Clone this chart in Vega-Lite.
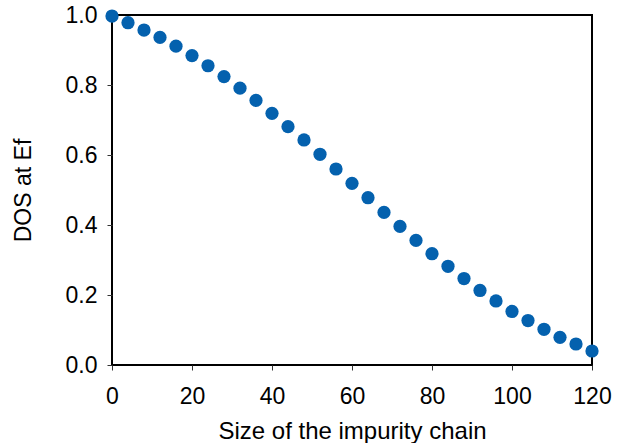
{
  "$schema": "https://vega.github.io/schema/vega-lite/v6.json",
  "width": 480,
  "height": 350,
  "autosize": "none",
  "padding": {"left": 112, "top": 15, "right": 36, "bottom": 78},
  "background": "white",
  "config": {
    "view": {"stroke": "black", "strokeWidth": 2},
    "font": "Liberation Sans"
  },
  "data": {
    "values": [
      {"size": 0, "dos": 0.997},
      {"size": 4, "dos": 0.978},
      {"size": 8, "dos": 0.957},
      {"size": 12, "dos": 0.936},
      {"size": 16, "dos": 0.911},
      {"size": 20, "dos": 0.884},
      {"size": 24, "dos": 0.855},
      {"size": 28, "dos": 0.824},
      {"size": 32, "dos": 0.791},
      {"size": 36, "dos": 0.756},
      {"size": 40, "dos": 0.719},
      {"size": 44, "dos": 0.681},
      {"size": 48, "dos": 0.643},
      {"size": 52, "dos": 0.602},
      {"size": 56, "dos": 0.560},
      {"size": 60, "dos": 0.519},
      {"size": 64, "dos": 0.478},
      {"size": 68, "dos": 0.436},
      {"size": 72, "dos": 0.396},
      {"size": 76, "dos": 0.356},
      {"size": 80, "dos": 0.318},
      {"size": 84, "dos": 0.282},
      {"size": 88, "dos": 0.247},
      {"size": 92, "dos": 0.213},
      {"size": 96, "dos": 0.183},
      {"size": 100, "dos": 0.153},
      {"size": 104, "dos": 0.127},
      {"size": 108, "dos": 0.102},
      {"size": 112, "dos": 0.079},
      {"size": 116, "dos": 0.060},
      {"size": 120, "dos": 0.040}
    ]
  },
  "mark": {"type": "circle", "size": 175, "color": "#0461AE", "opacity": 1},
  "encoding": {
    "x": {
      "field": "size",
      "type": "quantitative",
      "scale": {"domain": [0, 120], "nice": false, "zero": false},
      "axis": {
        "values": [0, 20, 40, 60, 80, 100, 120],
        "title": "Size of the impurity chain",
        "grid": false,
        "domain": false,
        "tickColor": "#333",
        "tickSize": 5,
        "labelFontSize": 23,
        "labelColor": "black",
        "labelPadding": 15,
        "labelFlush": false,
        "titleFontSize": 24,
        "titleFontWeight": "normal",
        "titleColor": "black",
        "titlePadding": 11
      }
    },
    "y": {
      "field": "dos",
      "type": "quantitative",
      "scale": {"domain": [0, 1], "nice": false},
      "axis": {
        "values": [0, 0.2, 0.4, 0.6, 0.8, 1.0],
        "format": ".1f",
        "title": "DOS at Ef",
        "grid": false,
        "domain": false,
        "tickColor": "#333",
        "tickSize": 5,
        "labelFontSize": 23,
        "labelColor": "black",
        "labelPadding": 10,
        "labelFlush": false,
        "titleFontSize": 23,
        "titleFontWeight": "normal",
        "titleColor": "black",
        "titlePadding": 30
      }
    }
  }
}
